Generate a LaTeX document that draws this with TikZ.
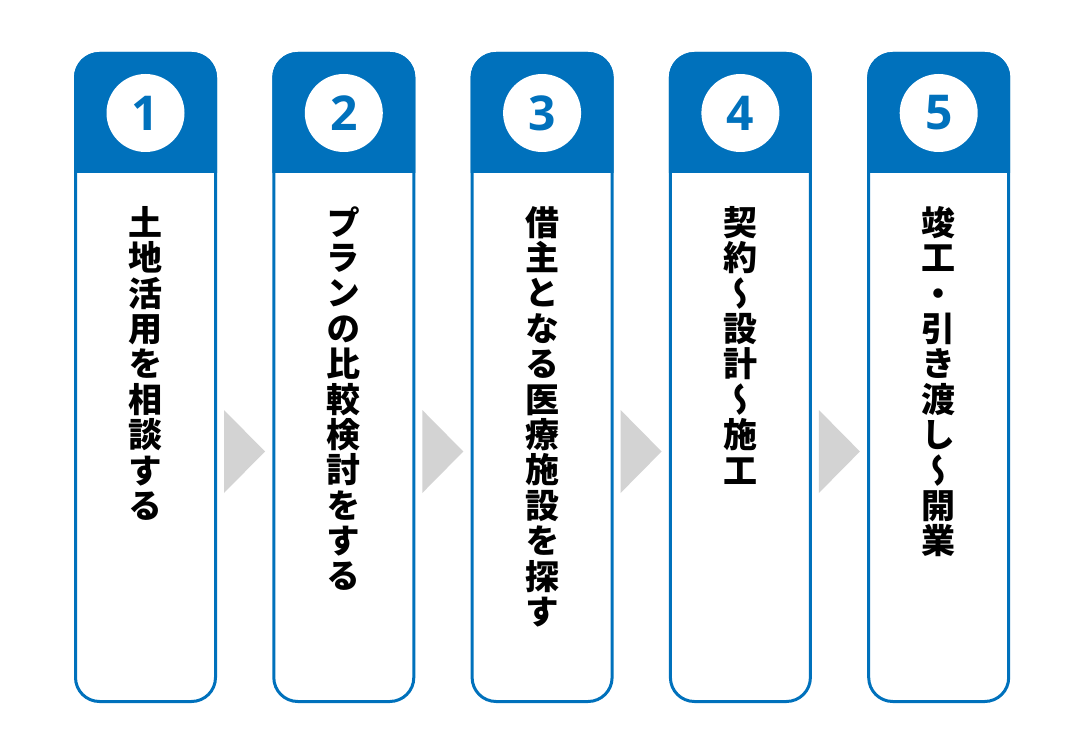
\documentclass[tikz,border=0pt]{standalone}
\usepackage{fontspec}
\newfontfamily\jp[RawFeature=+vert]{Noto Sans CJK JP}
\newfontfamily\numfont{Open Sans}
\definecolor{mblue}{RGB}{0,113,188}
\definecolor{agray}{RGB}{211,211,211}
\tikzset{
  numcircle/.style={circle, fill=white, minimum size=78pt, inner sep=0pt, text=mblue, font=\numfont\bfseries\fontsize{48}{48}\selectfont},
  vtext/.style={anchor=north, inner sep=0pt, align=center, font=\jp\bfseries\fontsize{34}{35.4}\selectfont},
  frame/.style={draw=mblue, line width=3pt, rounded corners=24pt},
  chev/.style={fill=agray}
}
\begin{document}
\begin{tikzpicture}[x=1pt,y=-1pt]
\useasboundingbox (0,0) rectangle (1088,754);
\foreach \i/\num/\txt in {0/1/{土\\地\\活\\用\\を\\相\\談\\す\\る},
                          1/2/{プ\\ラ\\ン\\の\\比\\較\\検\\討\\を\\す\\る},
                          2/3/{借\\主\\と\\な\\る\\医\\療\\施\\設\\を\\探\\す},
                          3/4/{契\\約\\～\\設\\計\\～\\施\\工},
                          4/5/{竣\\工\\・\\引\\き\\渡\\し\\～\\開\\業}}{
  \pgfmathsetmacro{\xo}{74+198.3*\i}
  \fill[mblue] (\xo,173) [rounded corners=25.5pt] -- (\xo,52) -- (\xo+143,52) [sharp corners] -- (\xo+143,173) -- cycle;
  \draw[frame] (\xo+1.5,53.5) rectangle (\xo+141.5,701.5);
  \node[numcircle] (c\num) at (\xo+71.5,113) {\num};
  \node[vtext] (t\num) at (\xo+71.5,206) {\txt};
}
\foreach \i in {0,1,2,3}{
  \pgfmathsetmacro{\xo}{74+198.3*\i}
  \fill[chev] (\xo+150,410) -- (\xo+191,451.5) -- (\xo+150,493) -- cycle;
}
\end{tikzpicture}
\end{document}
